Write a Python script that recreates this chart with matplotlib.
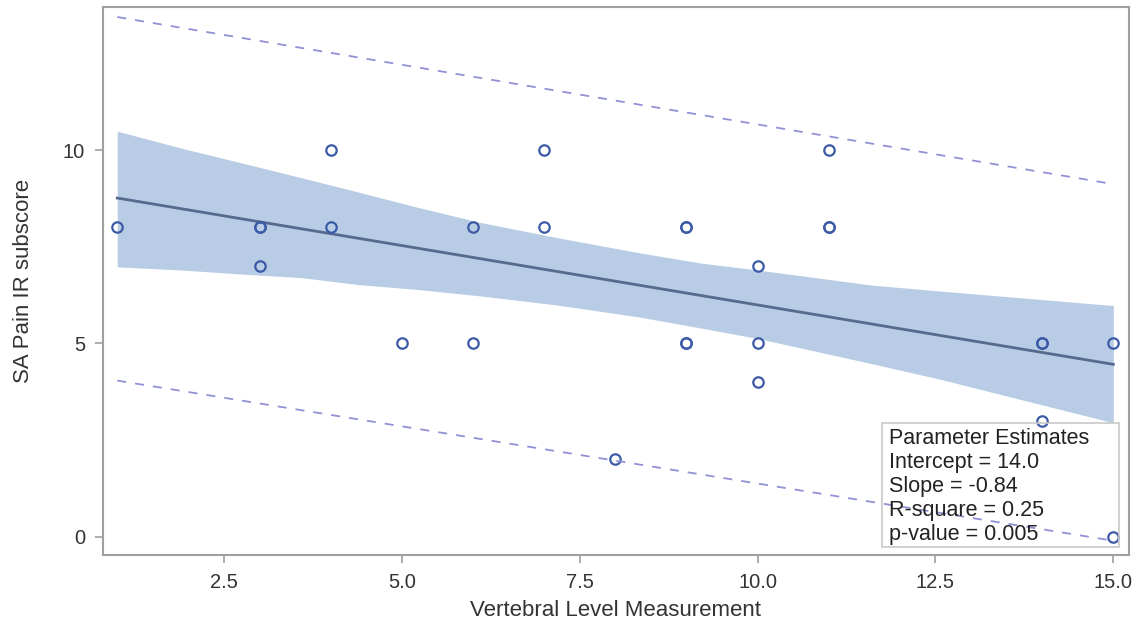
"""SA Pain IR subscore vs vertebral level (fit plot with confidence / prediction limits)"""
import matplotlib
matplotlib.use('Agg')
import matplotlib.pyplot as plt
from matplotlib.patches import Rectangle

plt.rcParams['font.family'] = ['Liberation Sans', 'DejaVu Sans']

# observations (duplicates drawn twice, as in the original)
obs_x = [1, 3, 3, 3, 4, 4, 5, 6, 6, 7, 7, 8, 9, 9, 9, 9, 10, 10, 10, 11, 11, 11, 14, 14, 14, 15, 15]
obs_y = [8, 8, 8, 7, 10, 8, 5, 8, 5, 10, 8, 2, 8, 8, 5, 5, 7, 5, 4, 10, 8, 8, 5, 5, 3, 5, 0]

# fitted line (read at the ends)
fit_x = [1, 15]
fit_y = [8.76, 4.46]

# 95% confidence band of the mean
band_x = [1, 1.9, 2.7, 3.6, 4.4, 5.2, 6.1, 7.2, 8.35, 9.2, 10.0, 11.6, 12.6, 13.7, 15]
band_hi = [10.49, 10.05, 9.69, 9.28, 8.91, 8.53, 8.13, 7.73, 7.34, 7.08, 6.90, 6.51, 6.35, 6.18, 5.98]
band_lo = [6.98, 6.90, 6.80, 6.70, 6.52, 6.40, 6.23, 5.99, 5.68, 5.40, 5.13, 4.48, 4.06, 3.55, 2.95]

# 95% prediction limits
pred_x = [1, 15]
pred_hi = [13.44, 9.12]
pred_lo = [4.04, -0.10]

stats_lines = ['Parameter Estimates', 'Intercept = 14.0', 'Slope = -0.84',
               'R-square = 0.25', 'p-value = 0.005']

fig = plt.figure(figsize=(11.42, 6.28), dpi=100)
ax = fig.add_axes([0.0902, 0.1162, 0.8984, 0.8727])

ax.fill_between(band_x, band_lo, band_hi, color='#b8cde5', lw=0, zorder=1)
ax.plot(fit_x, fit_y, '-', color='#56698f', lw=2, zorder=2)
ax.plot(pred_x, pred_hi, '--', color='#9191d6', lw=1.3, dashes=(5, 5), zorder=2)
ax.plot(pred_x, pred_lo, '--', color='#9191d6', lw=1.3, dashes=(5, 5), zorder=4)
ax.plot(obs_x, obs_y, 'o', ms=7.5, mfc='none', mec='#3c5aa6', mew=1.6, zorder=3)

ax.set_xlim(0.80, 15.22)
ax.set_ylim(-0.47, 13.7)
ax.set_xticks([2.5, 5.0, 7.5, 10.0, 12.5, 15.0])
ax.set_xticklabels(['2.5', '5.0', '7.5', '10.0', '12.5', '15.0'])
ax.set_yticks([0, 5, 10])

for s in ax.spines.values():
    s.set_color('#a0a0a0')
    s.set_linewidth(1.5)
ax.tick_params(colors='#a0a0a0', labelcolor='#333333', labelsize=14.5,
               length=6, width=1.2, pad=7)
ax.set_xlabel('Vertebral Level Measurement', fontsize=16, color='#333333', labelpad=6)
ax.set_ylabel('SA Pain IR subscore', fontsize=16, color='#333333', labelpad=21)

# parameter estimates box (no fill: the dashed line shows through)
ax.add_patch(Rectangle((0.759, 0.0146), 0.231, 0.2264, transform=ax.transAxes,
                       fill=False, edgecolor='#c8c8c8', lw=1.2, zorder=5))
for i, s in enumerate(stats_lines):
    ax.text(0.766, 0.2135 - i * 0.0438, s, transform=ax.transAxes, fontsize=15.5,
            va='center', ha='left', color='#222222', zorder=6)

fig.savefig('out.png', dpi=100)
